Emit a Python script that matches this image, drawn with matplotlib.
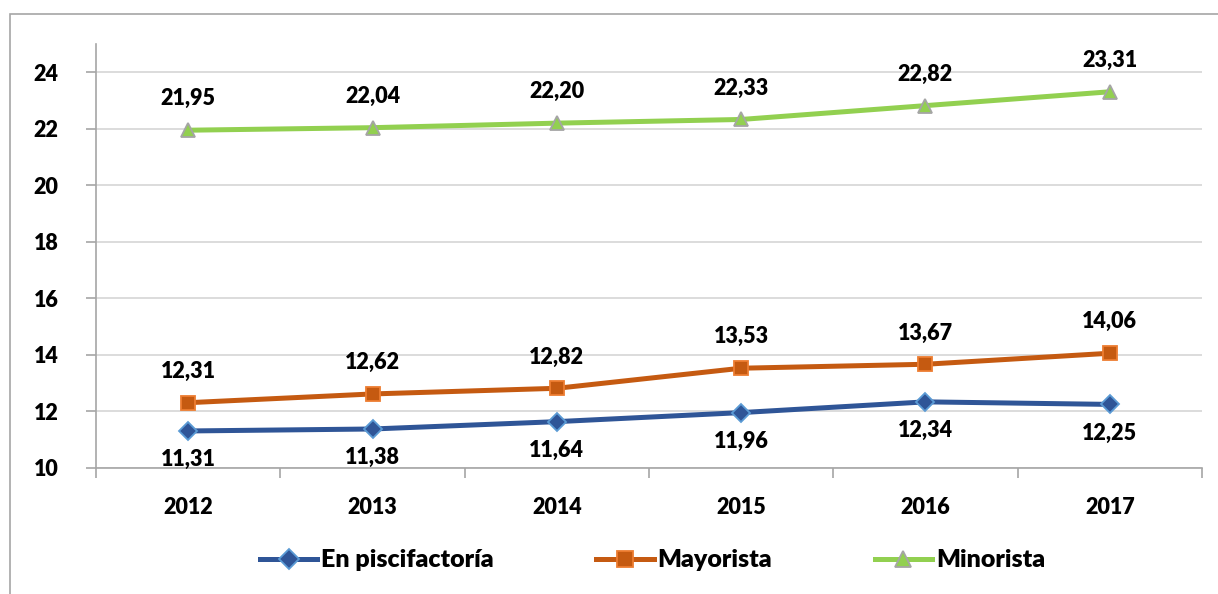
import matplotlib.pyplot as plt
from matplotlib.patches import Rectangle
import numpy as np

# data
years = ['2012', '2013', '2014', '2015', '2016', '2017']
piscifactoria = [11.31, 11.38, 11.64, 11.96, 12.34, 12.25]
mayorista = [12.31, 12.62, 12.82, 13.53, 13.67, 14.06]
minorista = [21.95, 22.04, 22.20, 22.33, 22.82, 23.31]

plt.rcParams['font.family'] = ['Lato', 'DejaVu Sans']
plt.rcParams['font.weight'] = 'heavy'

fig = plt.figure(figsize=(12.18, 5.94), dpi=100)
ax = fig.add_axes([96 / 1218, 1 - 468 / 594, (1202 - 96) / 1218, (468 - 44) / 594])

# outer frame of the chart area
fig.patches.append(Rectangle((10 / 1218, -0.1), 1.2, 1 - 14 / 594 + 0.1,
                             transform=fig.transFigure, fill=False,
                             edgecolor='#A6A6A6', linewidth=1.2))

x = np.arange(len(years))

series = [
    ('En piscifactoría', piscifactoria, '#2F5597', '#5B9BD5', 'D', 9, 'below'),
    ('Mayorista', mayorista, '#C55A11', '#ED7D31', 's', 10, 'above'),
    ('Minorista', minorista, '#92D050', '#A5A5A5', '^', 10, 'above'),
]

for name, vals, col, edge, mk, ms, pos in series:
    ax.plot(x, vals, color=col, linewidth=3.6, marker=mk, markersize=ms,
            markerfacecolor=col, markeredgecolor=edge, markeredgewidth=1.3,
            label=name, zorder=3)
    for xi, v in zip(x, vals):
        lab = f'{v:.2f}'.replace('.', ',')
        if pos == 'above':
            ax.annotate(lab, (xi, v), xytext=(0, 15), textcoords='offset points',
                        ha='center', va='bottom', fontsize=15.5, fontweight='heavy')
        else:
            ax.annotate(lab, (xi, v), xytext=(0, -13), textcoords='offset points',
                        ha='center', va='top', fontsize=15.5, fontweight='heavy')

ax.set_xlim(-0.5, 5.5)
ax.set_ylim(10, 25)
ax.set_yticks(np.arange(10, 25, 2))
ax.set_xticks(x)
ax.set_xticklabels(years)
ax.set_xticks(np.arange(-0.5, 6, 1), minor=True)
ax.tick_params(axis='x', which='major', length=0, pad=21, labelsize=15.5)
ax.tick_params(axis='x', which='minor', length=7, color='#A6A6A6', width=1.2)
ax.tick_params(axis='y', length=7, color='#A6A6A6', width=1.2, pad=20, labelsize=15.5)

ax.grid(axis='y', color='#D9D9D9', linewidth=1.3)
ax.set_axisbelow(True)
for s in ['top', 'right']:
    ax.spines[s].set_visible(False)
for s in ['left', 'bottom']:
    ax.spines[s].set_color('#A6A6A6')
    ax.spines[s].set_linewidth(1.2)

ax.legend(loc='center', bbox_to_anchor=(0.503, -0.218), ncol=3, frameon=False,
          prop={'size': 18, 'weight': 'heavy'}, columnspacing=4.1,
          handlelength=2.3, handletextpad=0.15, markerscale=1.15)

fig.savefig('out.png', dpi=100)
